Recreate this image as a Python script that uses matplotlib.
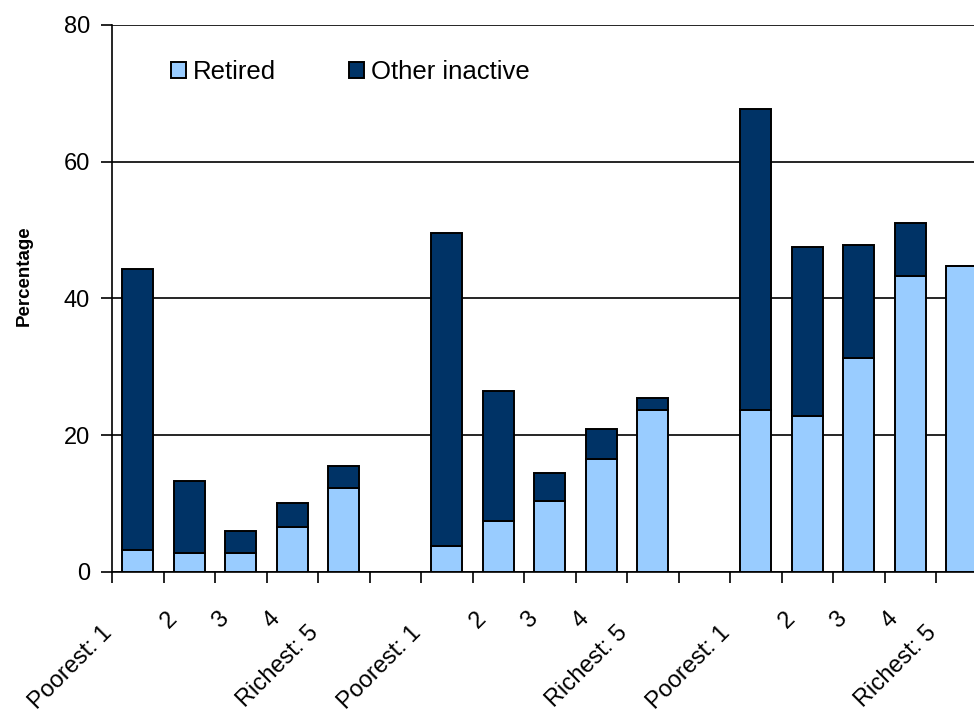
import matplotlib.pyplot as plt
import matplotlib.transforms as mtransforms
import numpy as np

plt.rcParams["font.family"] = ["Liberation Sans", "DejaVu Sans"]

quintiles = ["Poorest: 1", "2", "3", "4", "Richest: 5"]
groups = ["Age 50 - 54", "Age 55 - 59", "Age 60 - 64"]

retired = [
    [3.2, 2.7, 2.7, 6.5, 12.3],
    [3.85, 7.4, 10.3, 16.5, 23.7],
    [23.7, 22.8, 31.3, 43.3, 44.8],
]
other_inactive = [
    [41.1, 10.6, 3.2, 3.5, 3.2],
    [45.65, 19.0, 4.1, 4.4, 1.8],
    [44.0, 24.7, 16.5, 7.7, 0.0],
]

light = "#99CCFF"
dark = "#003366"


def plot_chart():
    fig = plt.figure(figsize=(9.74, 7.13), dpi=100)
    ax = fig.add_axes([0.115, 0.198, 0.899, 0.767])

    slot = len(quintiles) + 1
    xs, labels, ret, oth = [], [], [], []
    for g in range(len(groups)):
        for i, q in enumerate(quintiles):
            xs.append(g * slot + i)
            labels.append(q)
            ret.append(retired[g][i])
            oth.append(other_inactive[g][i])
    xs = np.array(xs)
    ret = np.array(ret)
    oth = np.array(oth)
    n_slots = len(groups) * slot - 1

    ax.bar(xs, ret, width=0.6, color=light, edgecolor="black", linewidth=1.4,
           label="Retired", zorder=3)
    ax.bar(xs, oth, bottom=ret, width=0.6, color=dark, edgecolor="black",
           linewidth=1.4, label="Other inactive", zorder=3)

    ax.set_xlim(-0.5, n_slots - 0.5)
    ax.set_ylim(0, 80)
    ax.set_yticks([0, 20, 40, 60, 80])
    ax.yaxis.grid(True, color="black", linewidth=1.2)
    ax.set_axisbelow(True)

    for s in ["top", "right"]:
        ax.spines[s].set_visible(False)
    for s in ["left", "bottom"]:
        ax.spines[s].set_linewidth(1.2)

    ax.set_xticks(xs)
    ax.set_xticklabels(labels, rotation=45, ha="right", va="center",
                       rotation_mode="anchor", fontsize=17)
    ax.tick_params(axis="x", which="major", length=0, pad=0)

    # Excel-like placement: longer labels slide a bit further down-left
    fig.canvas.draw()
    renderer = fig.canvas.get_renderer()
    u = np.array([np.cos(np.pi / 4), np.sin(np.pi / 4)])
    for lab in ax.get_xticklabels():
        w, _, _ = renderer.get_text_width_height_descent(
            lab.get_text(), lab.get_fontproperties(), ismath=False)
        dx, dy = np.array([-13.5, -41.5]) - 0.21 * w * u
        off = mtransforms.ScaledTranslation(dx / 100, dy / 100, fig.dpi_scale_trans)
        lab.set_transform(lab.get_transform() + off)

    ax.set_xticks(np.arange(-0.5, n_slots, 1), minor=True)
    ax.tick_params(axis="x", which="minor", length=8, width=1.2, direction="out")
    ax.tick_params(axis="y", length=8, width=1.2, labelsize=17, pad=8)

    ax.set_ylabel("Percentage", fontsize=13.5, fontweight="bold")
    ax.yaxis.set_label_coords(-0.091, 0.541)

    ax.legend(loc="upper left", bbox_to_anchor=(0.041, 0.978), ncol=2,
              frameon=False, fontsize=18.5, handlelength=0.58, handleheight=0.58,
              handletextpad=0.27, columnspacing=2.85)

    fig.savefig("out.png", dpi=100)


if __name__ == "__main__":
    plot_chart()
